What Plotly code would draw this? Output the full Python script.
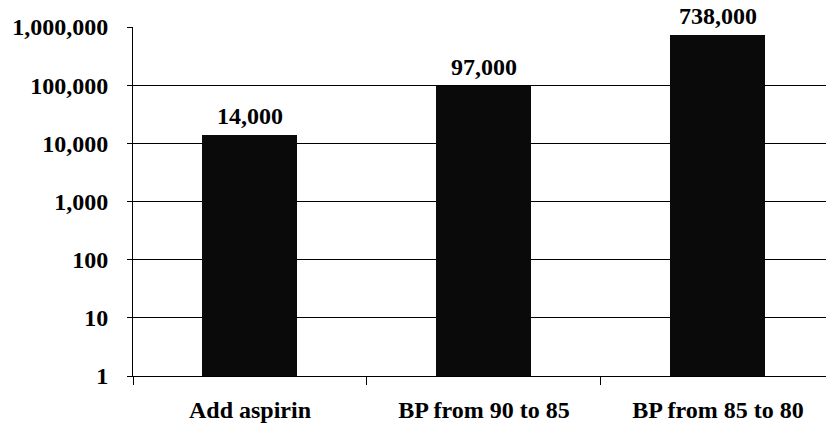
import plotly.graph_objects as go
import numpy as np

categories = ["Add aspirin", "BP from 90 to 85", "BP from 85 to 80"]
values = [14000, 97000, 738000]
value_labels = ["14,000", "97,000", "738,000"]
y_tickvals = [1, 10, 100, 1000, 10000, 100000, 1000000]
y_ticktext = ["1", "10", "100", "1,000", "10,000", "100,000", "1,000,000"]

FONT = "Liberation Serif"

fig = go.Figure()
fig.add_trace(go.Bar(
    x=categories, y=values, width=0.406,
    marker=dict(color="#0a0a0a", line=dict(width=0)),
    showlegend=False, hoverinfo="skip",
))

for c, v, t in zip(categories, values, value_labels):
    fig.add_annotation(
        x=c, y=np.log10(v), text="<b>" + t + "</b>", showarrow=False,
        yanchor="bottom", yshift=5, xref="x", yref="y", borderpad=0,
        height=27, valign="middle",
        font=dict(family=FONT, size=24, color="black"),
    )

fig.update_layout(
    width=826, height=430,
    margin=dict(l=133, r=0, t=27, b=54),
    paper_bgcolor="white", plot_bgcolor="white",
    font=dict(family=FONT, size=24, color="black"),
    bargap=0,
    xaxis=dict(
        type="category", range=[-0.5, 2.462],
        tickvals=categories, ticktext=["<b>" + c + "</b>" for c in categories],
        showline=True, linecolor="black", linewidth=1,
        ticks="outside", tickson="boundaries", ticklen=8, tickcolor="black", tickwidth=1,
        showgrid=False, tickfont=dict(family=FONT, size=24, color="black"),
        ticklabelstandoff=12,
    ),
    yaxis=dict(
        type="log", range=[0, 6],
        tickvals=y_tickvals, ticktext=["<b>" + t + "</b>" for t in y_ticktext],
        showline=True, linecolor="black", linewidth=1,
        ticks="outside", ticklen=5, tickcolor="black", tickwidth=1,
        showgrid=True, gridcolor="black", gridwidth=1,
        tickfont=dict(family=FONT, size=24, color="black"),
        ticklabelstandoff=14, zeroline=False,
    ),
    yaxis2=dict(
        type="log", range=[0, 6], overlaying="y", anchor="x", side="left",
        tickvals=y_tickvals, ticks="inside", ticklen=5, tickcolor="black", tickwidth=1,
        showticklabels=False, showgrid=False, showline=False, zeroline=False,
    ),
)

fig.write_html("out.html", config={"displayModeBar": False},
               post_script="document.body.style.margin='0';")
